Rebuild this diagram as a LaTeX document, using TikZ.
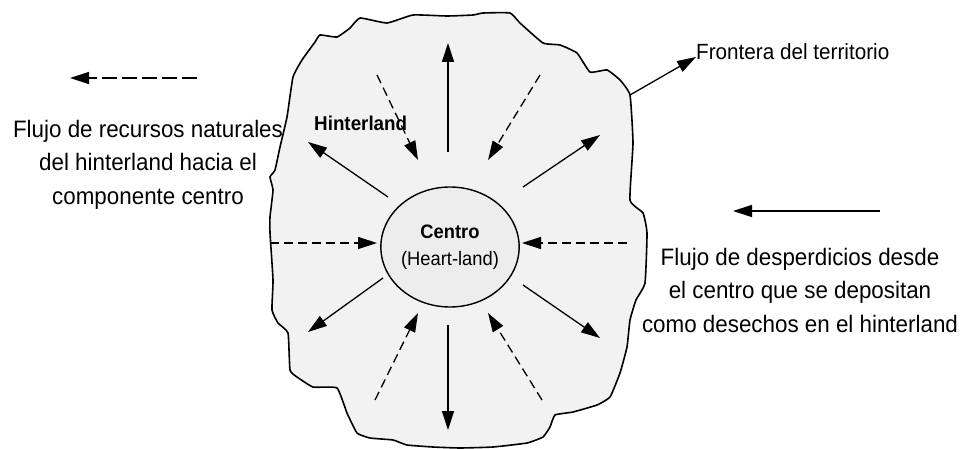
\documentclass[tikz,border=0pt]{standalone}
\usepackage{fontspec}
\setmainfont[FakeStretch=0.94]{Liberation Sans}
\usetikzlibrary{arrows.meta,shapes.geometric}
\tikzset{
	flow/.style={line width=1.3pt, -{Triangle[length=19pt,width=12pt]}},
	backflow/.style={flow, dash pattern=on 9pt off 5pt},
	legend/.style={align=center, inner sep=0pt, font=\fontsize{23.8}{33.5}\selectfont}
}
\begin{document}
\begin{tikzpicture}[x=1pt,y=-1pt]
	\useasboundingbox (0,0) rectangle (966,449);

	% territorio
	\draw[line width=1.6pt, fill=black!5] plot[smooth cycle, tension=0.25] coordinates {
		(302,60) (315,42) (320,35) (337,37) (350,28) (360,18) (387,23) (413,15) (447,16)
		(473,15) (483,13) (510,13) (520,23) (543,43) (560,45) (577,53) (590,72) (607,70)
		(620,80) (630,95) (633,143) (630,200) (643,213) (647,233) (645,283) (636,300)
		(630,320) (627,347) (620,373) (610,397) (597,405) (573,412) (555,415) (550,427)
		(543,437) (527,443) (493,447) (460,448) (433,447) (407,445) (393,440) (370,438)
		(357,433) (347,413) (337,388) (313,387) (297,377) (290,370) (288,333) (278,323)
		(272,310) (273,280) (270,233) (270,217) (273,190) (270,177) (275,170) (280,147)
		(287,117) (293,77)};

	\node[ellipse, draw, line width=1.4pt, fill=black!7, minimum width=133pt, minimum height=120pt,
		align=center, inner sep=0pt, font=\fontsize{19.5}{27}\selectfont] (centro) at (450,247)
		{{\bfseries Centro}\\(Heart-land)};
	\node[anchor=base west, inner sep=0pt, font=\fontsize{20}{23}\selectfont\bfseries] (hinter) at (314,131) {Hinterland};

	% salidas desde el centro
	\foreach \ax/\ay/\bx/\by [count=\i] in {448/152/448/43, 448/325/448/430, 388/197/308/142,
			523/187/600/135, 383/278/308/332, 523/285/600/338} {
		\coordinate (out\i a) at (\ax,\ay);
		\coordinate (out\i b) at (\bx,\by);
		\draw[flow] (out\i a) -- (out\i b);
	}

	% entradas hacia el centro
	\foreach \ax/\ay/\bx/\by [count=\i] in {270/243/377/243, 627/243/522/243, 377/75/418/160,
			540/75/488/160, 375/400/418/313, 542/400/488/313} {
		\coordinate (in\i a) at (\ax,\ay);
		\coordinate (in\i b) at (\bx,\by);
		\draw[backflow] (in\i a) -- (in\i b);
	}

	% frontera
	\node[anchor=base west, inner sep=0pt, font=\fontsize{22}{25}\selectfont] (frontera) at (696,60) {Frontera del territorio};
	\coordinate (borde) at (630,95);
	\draw[flow] (borde) -- ([yshift=3pt]frontera.base west);

	% leyendas
	\coordinate (rec a) at (197,78);
	\coordinate (rec b) at (70,78);
	\draw[backflow, dash pattern=on 15pt off 5pt] (rec a) -- (rec b);
	\node[legend, anchor=north] (recursos) at (148,120) {Flujo de recursos naturales\\del hinterland hacia el\\componente centro};

	\coordinate (des a) at (880,211);
	\coordinate (des b) at (733,211);
	\draw[flow] (des a) -- (des b);
	\node[legend, anchor=north] (desechos) at (800,248) {Flujo de desperdicios desde\\el centro que se depositan\\como desechos en el hinterland};
\end{tikzpicture}
\end{document}
